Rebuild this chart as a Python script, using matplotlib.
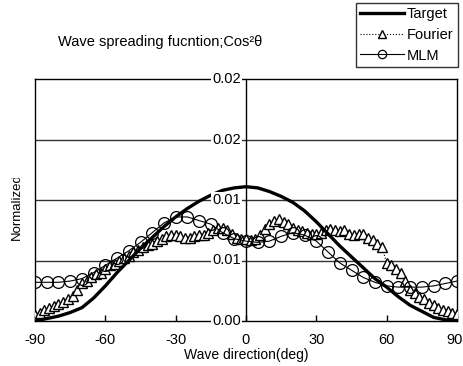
import numpy as np
import matplotlib
matplotlib.use("Agg")
import matplotlib.pyplot as plt
from matplotlib.transforms import Bbox, offset_copy

plt.rcParams['font.family'] = ['Liberation Sans', 'DejaVu Sans']

# ---- data ----
target_deg = [-90, -85, -80, -75, -70, -65, -60, -55, -50, -45, -40, -35, -30, -25, -20, -15, -10, -5, 0,
              5, 10, 15, 20, 25, 30, 35, 40, 45, 50, 55, 60, 65, 70, 75, 80, 85, 90]
target_val = [0.0000, 0.0002, 0.0004, 0.0007, 0.0011, 0.0019, 0.0029, 0.0040, 0.0050, 0.0060, 0.0069,
              0.0078, 0.0086, 0.0093, 0.0099, 0.0104, 0.0108, 0.0110, 0.0111, 0.0110, 0.0107, 0.0103,
              0.0098, 0.0091, 0.0082, 0.0072, 0.0062, 0.0053, 0.0044, 0.0035, 0.0028, 0.0020, 0.0013,
              0.0008, 0.0003, 0.0001, 0.0000]

fourier_deg = list(range(-90, 91, 2))
fourier_val = [0.0005, 0.0007, 0.0009, 0.0011, 0.0012, 0.0014, 0.0016, 0.0018, 0.0021, 0.0026,
               0.0031, 0.0033, 0.0036, 0.0039, 0.0040, 0.0043, 0.0046, 0.0047, 0.0050, 0.0052,
               0.0054, 0.0057, 0.0059, 0.0061, 0.0063, 0.0064, 0.0066, 0.0068, 0.0070, 0.0071,
               0.0071, 0.0070, 0.0069, 0.0069, 0.0070, 0.0071, 0.0071, 0.0073, 0.0075, 0.0077,
               0.0077, 0.0075, 0.0072, 0.0069, 0.0068, 0.0068, 0.0067, 0.0068, 0.0071, 0.0076,
               0.0080, 0.0083, 0.0084, 0.0082, 0.0080, 0.0077, 0.0075, 0.0074, 0.0073, 0.0072,
               0.0072, 0.0073, 0.0075, 0.0076, 0.0075, 0.0074, 0.0075, 0.0072, 0.0071, 0.0072,
               0.0072, 0.0069, 0.0067, 0.0064, 0.0061, 0.0048, 0.0046, 0.0043, 0.0040, 0.0033,
               0.0026, 0.0023, 0.0020, 0.0018, 0.0015, 0.0013, 0.0011, 0.0009, 0.0008, 0.0007,
               0.0006]

mlm_deg = list(range(-90, 91, 5))
mlm_val = [0.0032, 0.0032, 0.0032, 0.0033, 0.0035, 0.0040, 0.0046, 0.0052, 0.0058, 0.0065, 0.0073,
           0.0081, 0.0086, 0.0086, 0.0083, 0.0080, 0.0073, 0.0068, 0.0066, 0.0065, 0.0066, 0.0070,
           0.0073, 0.0071, 0.0066, 0.0057, 0.0048, 0.0042, 0.0036, 0.0032, 0.0029, 0.0028, 0.0028,
           0.0028, 0.0029, 0.0031, 0.0033]

xticks = [-90, -60, -30, 0, 30, 60, 90]
yticks = [0.0, 0.005, 0.01, 0.015, 0.02]
ytick_labels = ["0.00", "0.01", "0.01", "0.02", "0.02"]

# ---- figure ----
W, H = 463, 366
fig = plt.figure(figsize=(W / 100, H / 100), dpi=100)
ax = fig.add_axes([35 / W, 1 - 321 / H, (457 - 35) / W, (321 - 79) / H])
ax.set_xlim(-90, 90)
ax.set_ylim(0, 0.02)

for y in yticks[1:-1]:
    ax.axhline(y, color='#333333', lw=1.0, zorder=1)
ax.axvline(0, color='black', lw=1.0, zorder=1)

ax.plot(fourier_deg, fourier_val, linestyle=':', color='black', lw=0.8,
        marker='^', markersize=7.5, markerfacecolor='white', markeredgecolor='black',
        markeredgewidth=1.0, zorder=3, label='Fourier')
ax.plot(mlm_deg, mlm_val, linestyle='-', color='black', lw=0.8,
        marker='o', markersize=8.5, markerfacecolor='none', markeredgecolor='black',
        markeredgewidth=0.9, zorder=4, label='MLM')
ax.plot(target_deg, target_val, color='black', lw=2.4, zorder=5, label='Target')

ax.set_xticks(xticks)
ax.set_xticklabels([str(t) for t in xticks], fontsize=10.5)
ax.tick_params(axis='x', direction='in', length=4, width=1, pad=9)
labs = ax.get_xticklabels()
labs[-1].set_horizontalalignment('right')
labs[-1].set_transform(offset_copy(labs[-1].get_transform(), fig=fig, x=6, y=0, units='dots'))
ax.set_yticks([])
for sp in ax.spines.values():
    sp.set_linewidth(1.0)

for y, lab in zip(yticks, ytick_labels):
    ax.text(-2.2, y, lab, ha='right', va='center', fontsize=10.5, zorder=6,
            bbox=dict(facecolor='white', edgecolor='none', pad=0.5), clip_on=False)

ax.set_xlabel('Wave direction(deg)', fontsize=10, labelpad=0)

t = fig.text(17 / W, 1 - 207 / H, 'Normalized', rotation=90, ha='center', va='center', fontsize=9.5)
t.set_clip_box(Bbox.from_extents(0, 0, W, H - 178))
t.set_clip_on(True)

fig.text(58 / W, 1 - 42 / H, 'Wave spreading fucntion;Cos²θ', ha='left', va='center',
         fontsize=10.5)

handles, labels = ax.get_legend_handles_labels()
order = [2, 0, 1]
leg = fig.legend([handles[i] for i in order], [labels[i] for i in order],
                 loc='upper right', bbox_to_anchor=(458 / W, 1 - 3 / H),
                 fontsize=10.5, frameon=True, fancybox=False, handlelength=3.0,
                 labelspacing=0.45, borderpad=0.3, handletextpad=0.2, borderaxespad=0)
leg.get_frame().set_edgecolor('black')
leg.get_frame().set_linewidth(1.0)
for lh in leg.get_lines():
    if lh.get_marker() in ('^', 'o'):
        lh.set_markersize(6)

fig.savefig('out.png', dpi=100)
